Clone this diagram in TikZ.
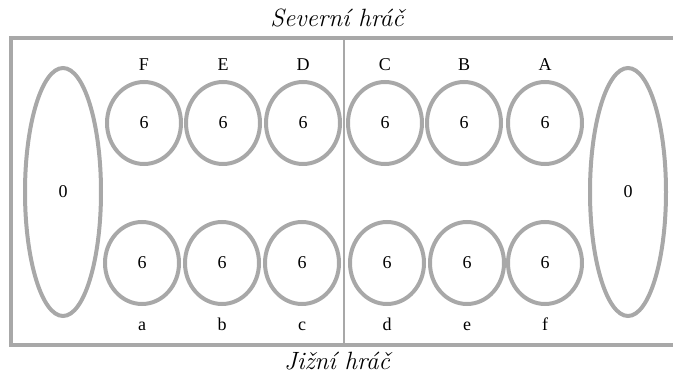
\documentclass[tikz,border=0pt]{standalone}
\usepackage{fontspec}
\newfontfamily\tms{Liberation Serif}
\usetikzlibrary{shapes.geometric}
\definecolor{pitgray}{RGB}{168,168,168}
\begin{document}
\begin{tikzpicture}[x=1pt,y=-1pt,
  pit/.style={ellipse,draw=pitgray,line width=4pt,minimum width=74pt,minimum height=82pt,inner sep=0pt,font=\tms\fontsize{18}{20}\selectfont},
  store/.style={ellipse,draw=pitgray,line width=4pt,minimum width=76pt,minimum height=248pt,inner sep=0pt,font=\tms\fontsize{18}{20}\selectfont},
  lbl/.style={font=\tms\fontsize{18}{20}\selectfont,inner sep=0pt,anchor=base},
  ttl/.style={font=\fontsize{25}{28}\selectfont\itshape,inner sep=0pt,anchor=base}]
\useasboundingbox (0,0) rectangle (673,380);
\draw[pitgray,line width=4pt] (675,38) -- (11,38) -- (11,345) -- (675,345);
\coordinate (dtop) at (344,38);
\coordinate (dbot) at (344,345);
\draw[pitgray,line width=1.6pt] (dtop) -- (dbot);
\node[ttl] (north) at (337,27) {Severní hráč};
\node[ttl] (south) at (337,369) {Jižní hráč};
\node[store] (L) at (63,192) {0};
\node[store] (R) at (628,192) {0};
\foreach \n/\x in {F/144,E/223,D/303,C/385,B/464,A/545}{
  \node[pit] (p\n) at (\x,123) {6};
  \node[lbl] (l\n) at (\x,70) {\n};
}
\foreach \n/\x in {a/142,b/222,c/302,d/387,e/467,f/545}{
  \node[pit] (p\n) at (\x,263) {6};
  \node[lbl] (l\n) at (\x,330) {\n};
}
\end{tikzpicture}
\end{document}
